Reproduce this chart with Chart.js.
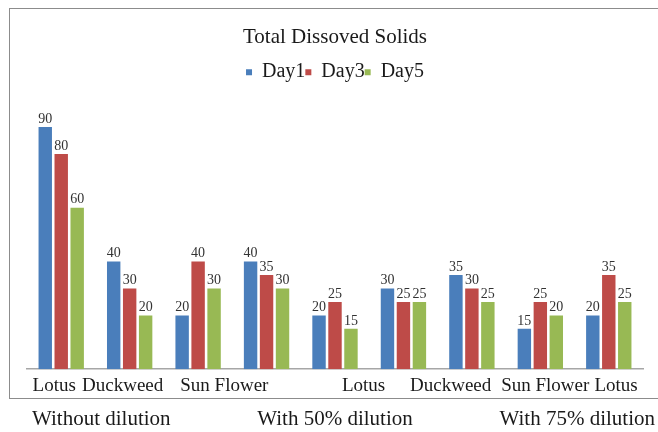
<!DOCTYPE html>
<html>
<head>
<meta charset="utf-8">
<script src="https://cdn.jsdelivr.net/npm/chart.js@4"></script>
<style>
    html, body { margin: 0; padding: 0; background: #fff; }
    #wrap { position: relative; width: 658px; height: 432px; overflow: hidden; }
    #frame {
        position: absolute; left: 9px; top: 8px; width: 720px; height: 389px;
        border: 1px solid #8c8c8c;
    }
    #tdsChart { position: absolute; left: 0; top: 0; }
    #groups {
        position: absolute; left: 32px; right: 3px; top: 406px;
        display: flex; justify-content: space-between;
        font: 21px "Liberation Serif", "Times New Roman", serif; color: #1a1a1a;
    }
</style>
</head>
<body>
<div id="wrap">
    <div id="frame"></div>
    <canvas id="tdsChart" width="658" height="432"></canvas>
    <div id="groups">
        <span>Without dilution</span>
        <span>With 50% dilution</span>
        <span>With 75% dilution</span>
    </div>
</div>
<script>
// plants under each dilution level
const categories = ['Lotus', 'Duckweed', 'Sun Flower', '', 'Lotus', '', 'Duckweed', 'Sun Flower', 'Lotus'];

// TDS readings per sampling day
const day1 = [90, 40, 20, 40, 20, 30, 35, 15, 20];
const day3 = [80, 30, 40, 35, 25, 25, 30, 25, 35];
const day5 = [60, 20, 30, 30, 15, 25, 25, 20, 25];

const serif = '"Liberation Serif", "Times New Roman", serif';

// names sit off-centre under their groups: pad with spaces (negative = trailing)
const indent = { 2: 14, 4: 15, 6: -6, 7: 5, 8: 6 };

function tickText(i) {
    const n = indent[i] || 0;
    const pad = ' '.repeat(Math.abs(n));
    return n < 0 ? categories[i] + pad : pad + categories[i];
}

// value printed above every bar
const barValues = {
    id: 'barValues',
    afterDatasetsDraw(chart) {
        const ctx = chart.ctx;
        ctx.save();
        ctx.font = '14px ' + serif;
        ctx.fillStyle = '#333';
        ctx.textAlign = 'center';
        ctx.textBaseline = 'bottom';
        chart.data.datasets.forEach((ds, i) => {
            chart.getDatasetMeta(i).data.forEach((bar, j) => {
                ctx.fillText(ds.data[j], bar.x, bar.y - 1);
            });
        });
        ctx.restore();
    }
};

const ctx = document.getElementById('tdsChart').getContext('2d');

new Chart(ctx, {
    type: 'bar',
    data: {
        labels: categories,
        datasets: [
            { label: 'Day1', data: day1, backgroundColor: '#4a7ebb' },
            { label: 'Day3', data: day3, backgroundColor: '#be4b48' },
            { label: 'Day5', data: day5, backgroundColor: '#98b954' }
        ]
    },
    options: {
        responsive: false,
        animation: false,
        layout: { padding: { top: 0, left: 27, right: 15, bottom: 38 } },
        datasets: {
            bar: { categoryPercentage: 0.7, barPercentage: 0.84 }
        },
        scales: {
            x: {
                grid: { display: false },
                border: { display: true, color: '#a6a6a6', width: 1.5 },
                ticks: {
                    autoSkip: false,
                    maxRotation: 0,
                    minRotation: 0,
                    padding: -3,
                    labelOffset: -7,
                    color: '#1a1a1a',
                    font: { family: serif, size: 19 },
                    callback: (v, i) => tickText(i)
                }
            },
            // empty strip between the legend and the bars
            xTop: {
                type: 'category',
                position: 'top',
                grid: { display: false },
                border: { display: false },
                ticks: { display: false },
                afterFit(scale) { scale.height = 8; }
            },
            y: {
                display: false,
                min: 0,
                max: 100
            }
        },
        plugins: {
            title: {
                display: true,
                text: 'Total Dissoved Solids',
                color: '#1a1a1a',
                font: { family: serif, size: 21, weight: 'normal' },
                padding: { top: 25, bottom: 12 }
            },
            legend: {
                position: 'top',
                labels: {
                    boxWidth: 6,
                    boxHeight: 6,
                    padding: 0,
                    color: '#1a1a1a',
                    font: { family: serif, size: 20 }
                }
            },
            tooltip: { enabled: false }
        }
    },
    plugins: [barValues]
});
</script>
</body>
</html>
